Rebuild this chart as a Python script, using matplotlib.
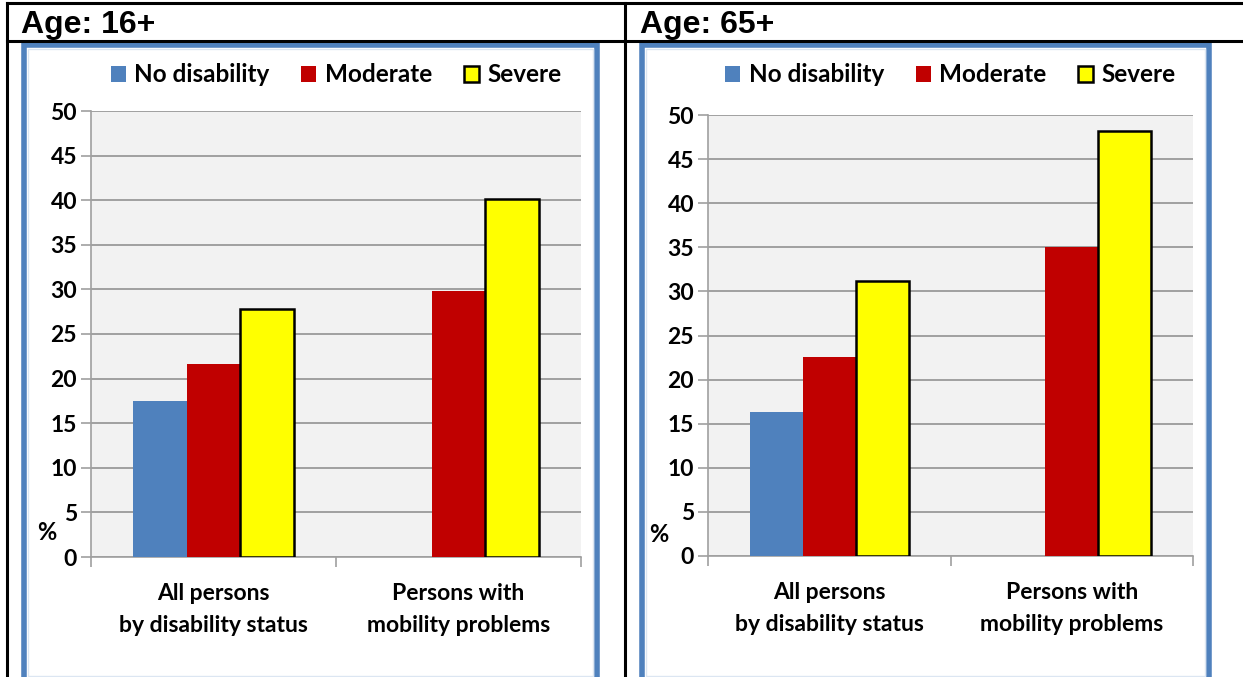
import numpy as np
import matplotlib
matplotlib.use('Agg')
import matplotlib.pyplot as plt
from matplotlib.patches import Rectangle
from matplotlib.lines import Line2D

# Dados
categorias = ['All persons\nby disability status', 'Persons with\nmobility problems']
series = ['No disability', 'Moderate', 'Severe']
cores = ['#4F81BD', '#C00000', '#FFFF00']
titulos = ['Age: 16+', 'Age: 65+']

idade16_sem = [17.5, np.nan]
idade16_moderada = [21.6, 29.8]
idade16_severa = [27.8, 40.1]

idade65_sem = [16.3, np.nan]
idade65_moderada = [22.6, 35.0]
idade65_severa = [31.2, 48.2]

yticks = list(range(0, 51, 5))

W, H = 1243, 677
fig = plt.figure(figsize=(W / 100, H / 100), dpi=100)
plt.rcParams['font.family'] = ['Lato', 'DejaVu Sans']

def fx(px):
    return px / W

def fy(py):
    return 1 - py / H

# Caixas azuis dos graficos (atras dos eixos)
for (x0, x1) in [(24, 597), (642, 1209)]:
    fig.add_artist(Rectangle((fx(x0), fy(H + 3)), fx(x1 - x0), fy(45) - fy(H + 3),
                             facecolor='white', edgecolor='#4F81BD', lw=4, zorder=-5))
    fig.add_artist(Rectangle((fx(x0 + 4), fy(H - 1)), fx(x1 - x0 - 8), fy(49) - fy(H - 1),
                             facecolor='none', edgecolor='#DCE6F2', lw=1, zorder=-4))

# Linhas da tabela
for (x0, y0, x1, y1) in [(7, 3, W, 3), (7, 41, W, 41), (7, 3, 7, H), (625, 3, 625, H)]:
    fig.add_artist(Line2D([fx(x0), fx(x1)], [fy(y0), fy(y1)], color='black', lw=2.2))

fig.text(fx(21), fy(33), titulos[0], fontsize=23, fontweight='bold', family='Liberation Sans')
fig.text(fx(640), fy(33), titulos[1], fontsize=23, fontweight='bold', family='Liberation Sans')

painel = [
    ([idade16_sem, idade16_moderada, idade16_severa], (91, 581, 111, 557), (47, 532)),
    ([idade65_sem, idade65_moderada, idade65_severa], (708, 1193, 115, 556), (659, 534)),
]

largura = 0.218
x = np.arange(len(categorias))

for valores, (l, r, t, b), (px, py) in painel:
    ax = fig.add_axes([fx(l), fy(b), fx(r - l), fy(t) - fy(b)])
    ax.set_facecolor('#F2F2F2')
    handles = []
    for i, (nome, v, c) in enumerate(zip(series, valores, cores)):
        if nome == 'Severe':
            h = ax.bar(x + (i - 1) * largura, v, largura, color=c, edgecolor='black', lw=1.8, label=nome, zorder=3)
        else:
            h = ax.bar(x + (i - 1) * largura, v, largura, color=c, lw=0, label=nome, zorder=3)
        handles.append(h)
    ax.set_xlim(-0.5, 1.5)
    ax.set_ylim(0, 50)
    ax.set_yticks(yticks)
    ax.set_yticklabels([str(v) for v in yticks], fontsize=16.5, fontweight='bold')
    ax.yaxis.grid(True, color='#A0A0A0', lw=1.4, zorder=1)
    ax.set_axisbelow(True)
    ax.set_xticks([-0.5, 0.5, 1.5])
    ax.set_xticklabels([])
    ax.set_xticks(x, minor=True)
    ax.set_xticklabels(categorias, minor=True, fontsize=16.5, fontweight='bold', linespacing=1.6)
    ax.tick_params(axis='x', which='minor', length=0, pad=19)
    ax.tick_params(axis='x', which='major', length=7, color='#A0A0A0', width=1.2)
    ax.tick_params(axis='y', length=7, color='#A0A0A0', width=1.2, pad=3)
    for s in ['top', 'right']:
        ax.spines[s].set_visible(False)
    for s in ['left', 'bottom']:
        ax.spines[s].set_color('#A0A0A0')
        ax.spines[s].set_linewidth(1.2)
    ax.set_ylabel('%', rotation=0, fontsize=17, fontweight='bold', va='center', ha='center')
    ax.yaxis.set_label_coords((px - l) / (r - l), (b - py) / (b - t))
    ax.legend(handles=handles, loc='center', bbox_to_anchor=(0.5, (b - 75) / (b - t)),
              ncol=3, frameon=False, prop={'weight': 'bold', 'size': 17.5},
              handlelength=0.62, handleheight=0.62, handletextpad=0.35, columnspacing=1.3)

fig.savefig('out.png', dpi=100)
